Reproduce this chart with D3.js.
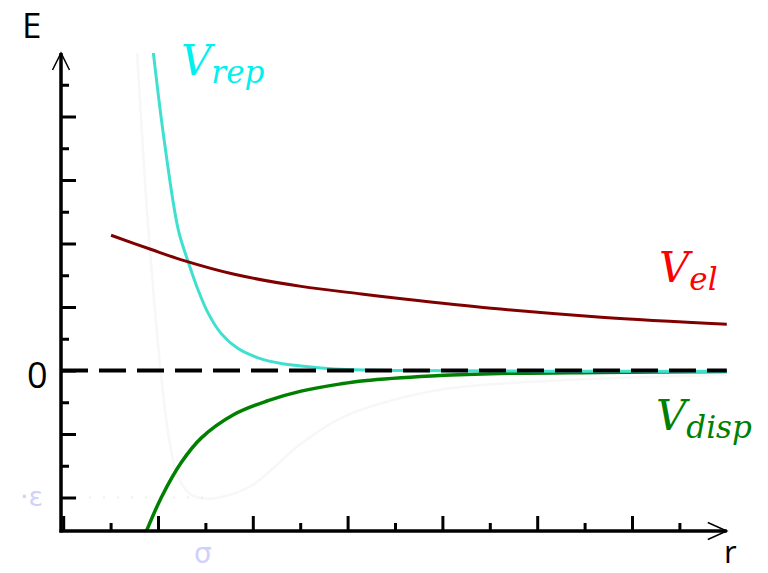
<!DOCTYPE html>
<html>
<head>
<meta charset="utf-8">
<script src="https://cdn.jsdelivr.net/npm/d3@7/dist/d3.min.js"></script>
<style>
  html, body { margin: 0; padding: 0; background: #fff; }
  svg { display: block; }
</style>
</head>
<body>
<svg id="chart" width="768" height="573"></svg>
<script>
// Distance r (x) and energy E (y) samples for each interaction term
const repR = [1.90, 2.13, 2.43, 2.64, 2.85, 3.06, 3.33, 3.69, 4.11, 4.60, 5.02, 5.44, 5.97, 7.13, 10.0, 14.03];
const repE = [10.03, 7.26, 4.42, 3.41, 2.52, 1.80, 1.17, 0.69, 0.40, 0.22, 0.14, 0.08, 0.03, 0.0, -0.02, -0.03];

const elR = [1.01, 1.86, 2.55, 3.61, 5.02, 6.29, 7.19, 9.03, 11.35, 14.05];
const elE = [4.26, 3.81, 3.46, 3.03, 2.65, 2.41, 2.25, 1.96, 1.68, 1.45];

const dispR = [1.75, 2.07, 2.49, 2.91, 3.61, 4.32, 5.02, 5.86, 6.35, 7.76, 9.03, 11.35, 14.03];
const dispE = [-5.08, -4.0, -2.90, -2.13, -1.38, -0.95, -0.65, -0.42, -0.32, -0.17, -0.10, -0.06, -0.03];

// Faint combined (Lennard-Jones style) curve in the background
const ljR = [1.56, 1.67, 1.77, 1.90, 2.07, 2.24, 2.43, 2.70, 3.02, 3.38, 3.97, 5.02, 5.86, 6.77, 8.12, 10.3, 14.03];
const ljE = [10.03, 7.26, 4.95, 2.52, -0.22, -2.21, -3.38, -3.91, -4.04, -3.97, -3.63, -2.30, -1.50, -1.01, -0.57, -0.32, -0.13];

const xTicks = [0, 1, 2, 3, 4, 5, 6, 7, 8, 9, 10, 11, 12, 13];
const yTicks = [-4, -3, -2, -1, 0, 1, 2, 3, 4, 5, 6, 7, 8, 9];
const epsilonLevel = -4;
const sigmaPos = 3;

const svg = d3.select("#chart");

const x = d3.scaleLinear().domain([0, 14]).range([63.2, 726.8]);
const y = d3.scaleLinear().domain([-5.055, 10]).range([531, 53]);

const axisX = 61;          // vertical axis position
const axisY = y(-5.055);   // horizontal axis position
const tipX = x(14);
const tipY = y(10);

// Clip region for the curves
svg.append("defs").append("clipPath").attr("id", "plot")
  .append("rect").attr("x", axisX).attr("y", tipY).attr("width", tipX - axisX).attr("height", axisY - tipY);

const line = d3.line().x(d => x(d[0])).y(d => y(d[1])).curve(d3.curveCatmullRom.alpha(0.5));
const zip = (a, b) => a.map((v, i) => [v, b[i]]);

const plot = svg.append("g").attr("clip-path", "url(#plot)");

// Very faint background curve and epsilon guide
plot.append("path").datum(zip(ljR, ljE)).attr("d", line)
  .attr("fill", "none").attr("stroke", "#f7f7f7").attr("stroke-width", 2.5);
plot.append("line")
  .attr("x1", axisX).attr("x2", x(sigmaPos))
  .attr("y1", y(epsilonLevel)).attr("y2", y(epsilonLevel))
  .attr("stroke", "#eeeeee").attr("stroke-width", 2).attr("stroke-dasharray", "2,12");

// Zero reference line
svg.append("line")
  .attr("x1", axisX).attr("x2", tipX)
  .attr("y1", y(0)).attr("y2", y(0))
  .attr("stroke", "#000").attr("stroke-width", 4).attr("stroke-dasharray", "27,11");

// Interaction curves
plot.append("path").datum(zip(dispR, dispE)).attr("d", line)
  .attr("fill", "none").attr("stroke", "#008000").attr("stroke-width", 3.5);
plot.append("path").datum(zip(repR, repE)).attr("d", line)
  .attr("fill", "none").attr("stroke", "#40E0D0").attr("stroke-width", 3);
plot.append("path").datum(zip(elR, elE)).attr("d", line)
  .attr("fill", "none").attr("stroke", "#800000").attr("stroke-width", 3);

// Tick marks: even values long, odd values short
function tickAxes(g, axisFn, scale, vals, len) {
  g.call(axisFn(scale).tickValues(vals).tickSize(len).tickFormat(""))
    .call(s => s.select(".domain").remove())
    .call(s => s.selectAll(".tick line").attr("stroke", "#000").attr("stroke-width", 3));
}
const yEven = yTicks.filter(v => v % 2 === 0), yOdd = yTicks.filter(v => v % 2 !== 0);
const xEven = xTicks.filter(v => v % 2 === 0), xOdd = xTicks.filter(v => v % 2 !== 0);
tickAxes(svg.append("g").attr("transform", `translate(${axisX},0)`), d3.axisRight, y, yEven, 15);
tickAxes(svg.append("g").attr("transform", `translate(${axisX},0)`), d3.axisRight, y, yOdd, 8);
tickAxes(svg.append("g").attr("transform", `translate(0,${axisY})`), d3.axisTop, x, xEven, 15);
tickAxes(svg.append("g").attr("transform", `translate(0,${axisY})`), d3.axisTop, x, xOdd, 8);

// Axis lines with open arrowheads
svg.append("line").attr("x1", axisX).attr("x2", axisX).attr("y1", axisY + 1.5).attr("y2", tipY)
  .attr("stroke", "#000").attr("stroke-width", 3.5);
svg.append("line").attr("x1", axisX - 1.5).attr("x2", tipX).attr("y1", axisY).attr("y2", axisY)
  .attr("stroke", "#000").attr("stroke-width", 3.5);
svg.append("path").attr("d", `M${axisX - 8.5},${tipY + 17}L${axisX},${tipY}L${axisX + 8.5},${tipY + 17}`)
  .attr("fill", "none").attr("stroke", "#000").attr("stroke-width", 1.5);
svg.append("path").attr("d", `M${tipX - 19},${axisY - 8.5}L${tipX},${axisY}L${tipX - 19},${axisY + 8.5}`)
  .attr("fill", "none").attr("stroke", "#000").attr("stroke-width", 1.5);

// Axis titles and zero label
const sans = "'Open Sans', 'Noto Sans', sans-serif";
svg.append("text").attr("x", 22).attr("y", 38).text("E")
  .attr("font-family", sans).attr("font-size", 35).attr("fill", "#000");
svg.append("text").attr("x", 27).attr("y", 388).text("0")
  .attr("font-family", sans).attr("font-size", 36).attr("fill", "#000");
svg.append("text").attr("x", 724).attr("y", 563).text("r")
  .attr("font-family", sans).attr("font-size", 31).attr("fill", "#000");

// Faint epsilon / sigma labels
svg.append("text").attr("x", 20).attr("y", 506).text("·ε")
  .attr("font-family", "'DejaVu Sans', sans-serif").attr("font-size", 27).attr("fill", "#d0d0fa");
svg.append("text").attr("x", 194).attr("y", 563).text("σ")
  .attr("font-family", "'DejaVu Sans', sans-serif").attr("font-size", 28).attr("fill", "#d0d0fa");

// Curve labels
const serif = "'DejaVu Serif', serif";
function curveLabel(px, py, main, sub, color) {
  const t = svg.append("text").attr("x", px).attr("y", py)
    .attr("font-family", serif).attr("font-style", "italic").attr("fill", color);
  t.append("tspan").attr("font-size", 42).text(main);
  t.append("tspan").attr("font-size", 31).attr("dy", 8).text(sub);
}
curveLabel(181, 75, "V", "rep", "#00F0F0");
curveLabel(659, 282, "V", "el", "#FF0000");
curveLabel(656, 430, "V", "disp", "#008000");
</script>
</body>
</html>
